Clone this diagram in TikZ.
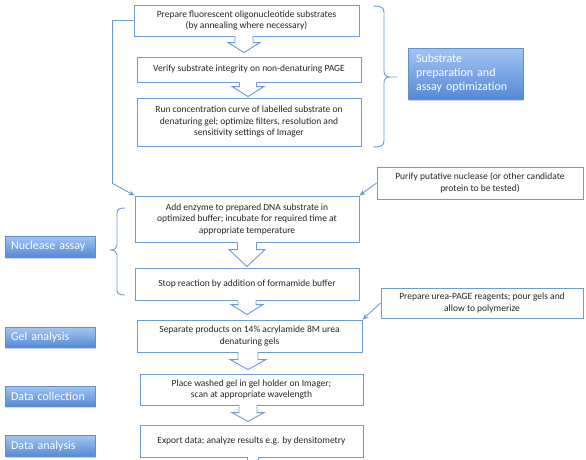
\documentclass[tikz,border=0pt]{standalone}
\usepackage{fontspec}
\setmainfont{Carlito}
\usetikzlibrary{shadows,arrows.meta,calc}
\definecolor{bl}{HTML}{6F9BD3}
\definecolor{lblt}{HTML}{A2C5F2}
\definecolor{lblb}{HTML}{5589D6}
\definecolor{lbld}{HTML}{5F8FCF}
\tikzset{
  stepbox/.style={draw=bl, line width=0.9pt, fill=white, align=center,
    font=\fontsize{9.5}{11.5}\selectfont, text=black!85, inner sep=2pt},
  lblbox/.style={draw=lbld, line width=0.5pt, top color=lblt, bottom color=lblb,
    text=white, align=left, font=\fontsize{12}{14}\selectfont,
    inner xsep=8pt, inner ysep=2pt,
    drop shadow={shadow xshift=1pt, shadow yshift=-1.5pt, opacity=0.35}},
  conn/.style={draw=bl, line width=0.9pt, -{Stealth[length=6pt,width=5pt]}},
  bline/.style={draw=bl, line width=0.9pt, line join=miter},
}
% block arrow: #1 from node, #2 to node, #3 centre x, #4 shaft half width,
% #5 head half width, #6 head length, #7 gap above target
\newcommand{\blockarr}[7]{%
  \fill[white] let \p1=(#1.south), \p2=(#2.north) in
    ({#3pt-#4pt},\y1+1.5pt) -- ({#3pt-#4pt},\y2+#7pt+#6pt) -- ({#3pt-#5pt},\y2+#7pt+#6pt)
    -- (#3pt,\y2+#7pt) -- ({#3pt+#5pt},\y2+#7pt+#6pt) -- ({#3pt+#4pt},\y2+#7pt+#6pt)
    -- ({#3pt+#4pt},\y1+1.5pt) -- cycle;
  \draw[bline] let \p1=(#1.south), \p2=(#2.north) in
    ({#3pt-#4pt},\y1) -- ({#3pt-#4pt},\y2+#7pt+#6pt) -- ({#3pt-#5pt},\y2+#7pt+#6pt)
    -- (#3pt,\y2+#7pt) -- ({#3pt+#5pt},\y2+#7pt+#6pt) -- ({#3pt+#4pt},\y2+#7pt+#6pt)
    -- ({#3pt+#4pt},\y1);
}
\begin{document}
\begin{tikzpicture}[x=1pt,y=-1pt]
\useasboundingbox (0,0) rectangle (586,459);
\begin{scope}
\clip (0,0) rectangle (586,459);

% step boxes
\node[stepbox, minimum width=225pt, minimum height=31pt] (b1) at (246.5,20.5)
  {Prepare fluorescent oligonucleotide substrates\\(by annealing where necessary)};
\node[stepbox, minimum width=224pt, minimum height=25pt] (b2) at (249,69.5)
  {Verify substrate integrity on non-denaturing PAGE};
\node[stepbox, minimum width=224pt, minimum height=48pt] (b3) at (249,122)
  {Run concentration curve of labelled substrate on\\denaturing gel; optimize filters, resolution and\\sensitivity settings of Imager};
\node[stepbox, minimum width=224pt, minimum height=46pt] (b4) at (247,219)
  {Add enzyme to prepared DNA substrate in\\optimized buffer; incubate for required time at\\appropriate temperature};
\node[stepbox, minimum width=224pt, minimum height=32pt] (b5) at (247,284)
  {Stop reaction by addition of formamide buffer};
\node[stepbox, minimum width=225pt, minimum height=32pt] (b6) at (249.5,336)
  {Separate products on 14\% acrylamide 8M urea\\denaturing gels};
\node[stepbox, minimum width=223pt, minimum height=31pt] (b7) at (251.5,389.5)
  {Place washed gel in gel holder on Imager;\\scan at appropriate wavelength};
\node[stepbox, minimum width=223pt, minimum height=32pt] (b8) at (251.5,441)
  {Export data; analyze results e.g. by densitometry};

% side boxes
\node[stepbox, minimum width=206pt, minimum height=32pt] (pur) at (480,183)
  {Purify putative nuclease (or other candidate\\protein to be tested)};
\node[stepbox, minimum width=202pt, minimum height=30pt] (urea) at (482,303)
  {Prepare urea-PAGE reagents; pour gels and\\allow to polymerize};

% block arrows
\blockarr{b1}{b2}{244}{9}{16}{10}{4}
\blockarr{b2}{b3}{248}{8.5}{16}{10}{1}
\blockarr{b4}{b5}{247}{9.5}{18}{17}{1}
\blockarr{b5}{b6}{247}{9}{16}{10}{5}
\blockarr{b6}{b7}{248}{10}{18}{10}{4}
\blockarr{b7}{b8}{248}{9}{16}{9}{3}
% arrow leaving the bottom of the picture
\fill[white] let \p1=(b8.south) in (247pt,\y1+1.5pt) rectangle (258pt,\y1-20pt);
\draw[bline] let \p1=(b8.south) in (247pt,\y1) -- (247pt,\y1-20pt)
  (258pt,\y1) -- (258pt,\y1-20pt);

% connectors
\draw[conn] (b1.west) -- ++(-21,0) -- ++(0,163) -- (b4.north west);
\draw[conn] (pur.west) -- (b4.north east);
\draw[conn] (urea.west) -- (b6.north east);

% braces
\draw[bline, line join=round]
  (373,6) .. controls (380,6) and (384,7) .. (384,12) -- (384,71)
  .. controls (384,75) and (386,77) .. (390,77) -- (397,77)
  (390,77) .. controls (386,77) and (384,79) .. (384,83) -- (384,141)
  .. controls (384,146) and (380,147) .. (373,147);
\draw[bline, line join=round]
  (125,208) .. controls (120,208) and (117,209) .. (117,213) -- (117,245)
  .. controls (117,248) and (115,250) .. (110,250)
  .. controls (115,250) and (117,252) .. (117,255) -- (117,290)
  .. controls (117,294) and (120,295) .. (125,295);

% stage labels
\node[lblbox, text width=99pt, minimum height=51pt] (lsub) at (465.5,73.5)
  {Substrate\\preparation and\\assay optimization};
\node[lblbox, text width=78pt, inner xsep=6pt, minimum height=21pt] (lnuc) at (50,246.5) {\mbox{Nuclease assay}};
\node[lblbox, text width=78pt, inner xsep=6pt, minimum height=20pt] (lgel) at (50,337.5) {\mbox{Gel analysis}};
\node[lblbox, text width=78pt, inner xsep=6pt, minimum height=20pt] (ldc) at (50,396) {\mbox{Data collection}};
\node[lblbox, text width=78pt, inner xsep=6pt, minimum height=21pt] (lda) at (50,446) {\mbox{Data analysis}};
\end{scope}
\end{tikzpicture}
\end{document}
